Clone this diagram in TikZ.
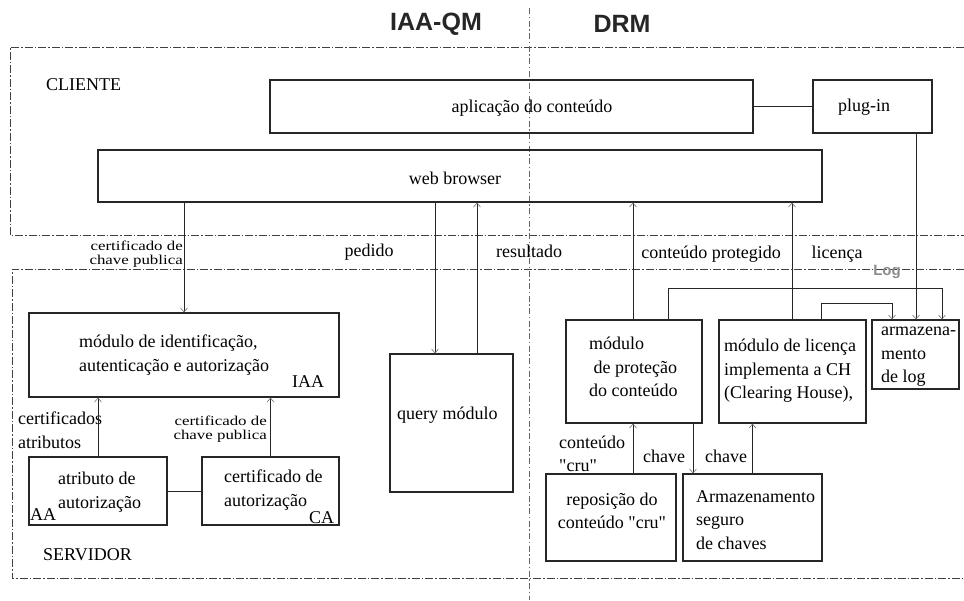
\documentclass[tikz,border=0pt]{standalone}
\usepackage{fontspec}
\setmainfont{Liberation Serif}[Ligatures=TeXOff]
\newfontfamily\titlefont{Liberation Sans}
\newfontfamily\widefont{Liberation Serif}[Ligatures=TeXOff,FakeStretch=1.25]
\usetikzlibrary{arrows.meta}
\begin{document}
\begin{tikzpicture}[x=1pt,y=-1pt,
  bx/.style 2 args={draw=black!85, line width=1.2pt, minimum width=#1, minimum height=#2, inner sep=0pt},
  frame/.style={draw=black!75, line width=0.9pt, dash pattern=on 8pt off 2pt on 1.5pt off 2pt},
  divider/.style={draw=black!60, line width=0.9pt, dash pattern=on 6pt off 2.5pt on 1.5pt off 2.5pt},
  ln/.style={draw=black!85, line width=0.8pt},
  arr/.style={ln, -{Straight Barb[length=4pt,width=7pt,line width=0.6pt,color=black!55]}},
  t/.style={font=\fontsize{18}{23.5}\selectfont, inner sep=0pt, align=left},
  sm/.style={font=\widefont\fontsize{13.5}{13.5}\selectfont, inner sep=0pt, align=right},
  ttl/.style={font=\titlefont\bfseries\fontsize{25}{28}\selectfont, inner sep=0pt, text=black!85}]
\fill[white] (0,0) rectangle (964,600);
\useasboundingbox (0,0) rectangle (964,600);

% frames and divider
\draw[frame] (964,47) -- (10,47) -- (10,235) -- (964,235);
\draw[frame] (964,269) -- (12,269) -- (12,578) -- (964,578);
\draw[divider] (529,8) -- (529,600);

% titles
\node[ttl] (tq) at (436,24) {IAA-QM};
\node[ttl] (td) at (622,24) {DRM};

% boxes
\node[bx={483pt}{53pt}] (app) at (511.5,106.5) {};
\node[bx={119pt}{53pt}] (plug) at (872.5,106.5) {};
\node[bx={724pt}{52pt}] (web) at (460,176) {};
\node[bx={310pt}{84pt}] (iaa) at (184,355) {};
\node[bx={123pt}{138pt}] (query) at (451.5,423) {};
\node[bx={138pt}{68pt}] (attr) at (98,491) {};
\node[bx={137pt}{68pt}] (certa) at (270.5,491) {};
\node[bx={136pt}{103pt}] (prot) at (634,371.5) {};
\node[bx={147pt}{103pt}] (lic) at (792.5,371.5) {};
\node[bx={87pt}{69pt}] (logb) at (915.5,354.5) {};
\node[bx={130pt}{87pt}] (repo) at (611,517.5) {};
\node[bx={139pt}{87pt}] (arm) at (752.5,517.5) {};

% texts in client
\node[t, anchor=west] (cli) at (46,85) {CLIENTE};
\node[t] (appt) at (532,108) {aplicação do conteúdo};
\node[t] (plugt) at (864,107) {plug-in};
\node[t] (webt) at (455,178) {web browser};

% texts in server
\node[t, anchor=west] (iaat) at (79,355) {módulo de identificação,\\autenticação e autorização};
\node[t, anchor=west] (iaalbl) at (292,382) {IAA};
\node[t, anchor=west] (queryt) at (397,415) {query módulo};
\node[t, anchor=west] (attrt) at (58,492) {atributo de\\autorização};
\node[t, anchor=west] (aalbl) at (30,515) {AA};
\node[t, anchor=west] (certat) at (224,490) {certificado de\\autorização};
\node[t, anchor=west] (calbl) at (309,518) {CA};
\node[t, anchor=west] (prott) at (589,367) {módulo\\\ de proteção\\do conteúdo};
\node[t, anchor=west] (lict) at (724,371) {módulo de licença\\implementa a CH\\(Clearing House),};
\node[t, anchor=west] (logt) at (881,357) {armazena-\\mento\\de log};
\node[t, align=center] (repot) at (612,511) {reposição do\\conteúdo "cru"};
\node[t, anchor=west] (armt) at (696,520) {Armazenamento\\seguro\\de chaves};
\node[t, anchor=west] (servt) at (43,555) {SERVIDOR};

% connector labels
\node[sm, anchor=east] (l1) at (183,254) {certificado de\\chave publica};
\node[t] (l2) at (369,252) {pedido};
\node[t] (l3) at (529,251) {resultado};
\node[t] (l4) at (711,254) {conteúdo protegido};
\node[t] (l5) at (837,254) {licença};
\node[font=\titlefont\bfseries\fontsize{15}{16}\selectfont, text=black!45, inner sep=0pt] (l6) at (887,272) {Log};
\node[t, anchor=west] (l7) at (18,430) {certificados\\atributos};
\node[sm, anchor=east] (l8) at (267,429) {certificado de\\chave publica};
\node[t, anchor=west] (l9) at (559,454) {conteúdo\\"cru"};
\node[t] (l10) at (664,456) {chave};
\node[t] (l11) at (726,456) {chave};

% connectors
\draw[ln] (app.east) -- (plug.west);
\draw[arr] (iaa.north |- web.south) -- (iaa.north);
\draw[arr] (web.south -| 435,0) -- (query.north -| 435,0);
\draw[arr] (query.north -| 477,0) -- (web.south -| 477,0);
\draw[arr] (prot.north -| 633,0) -- (web.south -| 633,0);
\draw[arr] (lic.north -| 792,0) -- (web.south -| 792,0);
\draw[arr] (plug.south -| 916,0) -- (logb.north -| 916,0);
\draw[arr] (lic.north -| 821,0) -- (821,303) -| (logb.north -| 892,0);
\draw[arr] (prot.north -| 668,0) -- (668,288) -| (logb.north -| 942,0);
\draw[arr] (attr.north) -- (iaa.south -| attr.north);
\draw[arr] (certa.north) -- (iaa.south -| certa.north);
\draw[ln] (attr.east) -- (certa.west);
\draw[arr] (repo.north -| 633,0) -- (prot.south -| 633,0);
\draw[arr] (prot.south -| 693,0) -- (arm.north -| 693,0);
\draw[arr] (arm.north) -- (lic.south -| arm.north);
\end{tikzpicture}
\end{document}
